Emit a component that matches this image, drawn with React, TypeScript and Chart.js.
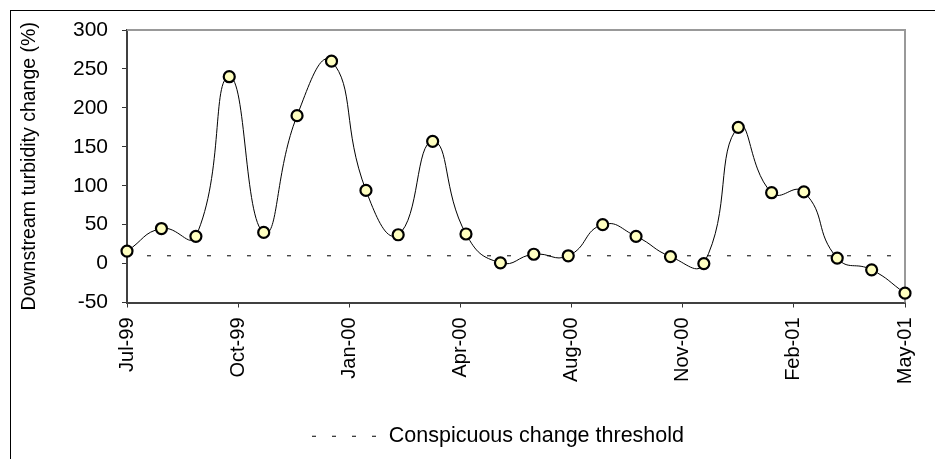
import React, { useEffect, useRef } from "react";
import { Chart, registerables } from "chart.js";

Chart.register(...registerables);

// Sample dates as days after 1 Jul 1999
const sampleDays = [0, 31, 62, 92, 123, 153, 184, 215, 244, 275, 305, 336, 366, 397, 428, 458, 489, 519, 550, 580, 609, 639, 670, 700];
// Downstream turbidity change (%)
const turbidityChange = [16, 45, 35, 240, 40, 190, 260, 94, 37, 157, 38, 1, 12, 10, 50, 35, 9, 0, 175, 91, 92, 7, -8, -38];
// Tick labels every 100 days
const tickLabels = ["Jul-99", "Oct-99", "Jan-00", "Apr-00", "Aug-00", "Nov-00", "Feb-01", "May-01"];
// Conspicuous change threshold
const thresholdDays = [18, 690];
const thresholdValues = [10, 10];
const thresholdDash = [4, 16];

const FONT = "'Liberation Sans', Arial, Helvetica, sans-serif";

const framePlugin = {
  id: "plotFrame",
  beforeDatasetsDraw(chart: any) {
    const { ctx, chartArea } = chart;
    ctx.save();
    ctx.strokeStyle = "#999999";
    ctx.lineWidth = 2;
    ctx.beginPath();
    ctx.moveTo(chartArea.left, chartArea.top);
    ctx.lineTo(chartArea.right, chartArea.top);
    ctx.lineTo(chartArea.right, chartArea.bottom);
    ctx.stroke();
    ctx.restore();
  },
};

export default function App() {
  const ref = useRef<HTMLCanvasElement | null>(null);

  useEffect(() => {
    if (!ref.current) return;
    const chart = new Chart(ref.current, {
      type: "line",
      data: {
        datasets: [
          {
            label: "Downstream turbidity change",
            data: sampleDays.map((d, i) => ({ x: d, y: turbidityChange[i] })),
            borderColor: "#000000",
            borderWidth: 1,
            tension: 0.5,
            pointRadius: 5.5,
            pointHoverRadius: 5.5,
            pointBorderWidth: 2.2,
            pointBackgroundColor: "#FFFFC0",
            pointBorderColor: "#000000",
            clip: false as any,
          },
          {
            label: "Conspicuous change threshold",
            data: thresholdDays.map((d, i) => ({ x: d, y: thresholdValues[i] })),
            borderColor: "#000000",
            borderWidth: 1,
            borderDash: thresholdDash,
            pointRadius: 0,
            tension: 0,
          },
        ],
      },
      options: {
        animation: false,
        responsive: false,
        events: [],
        layout: { padding: { left: 0, top: 30, right: 0, bottom: 2 } },
        plugins: {
          legend: {
            position: "bottom",
            labels: {
              usePointStyle: true,
              pointStyle: "line",
              pointStyleWidth: 66,
              color: "#000000",
              padding: 10,
              font: { family: FONT, size: 21.5 },
              generateLabels: (c: any) =>
                Chart.defaults.plugins.legend.labels
                  .generateLabels(c)
                  .filter((it: any) => it.datasetIndex === 1)
                  .map((it: any) => ({
                    ...it,
                    lineDash: thresholdDash,
                    lineWidth: 1,
                    strokeStyle: "#000000",
                    fillStyle: "#000000",
                  })),
            },
          },
          tooltip: { enabled: false },
        },
        scales: {
          x: {
            type: "linear",
            min: 0,
            max: 700,
            ticks: {
              stepSize: 100,
              autoSkip: false,
              minRotation: 90,
              maxRotation: 90,
              padding: 10,
              color: "#000000",
              font: { family: FONT, size: 20 },
              callback: (v: any) => tickLabels[Math.round(Number(v) / 100)] ?? "",
            },
            grid: {
              drawOnChartArea: false,
              drawTicks: true,
              tickLength: 5,
              tickColor: "#333333",
              tickWidth: 1,
            },
            border: { display: true, color: "#404040", width: 2 },
            afterFit: (s: any) => {
              s.height = 113;
            },
          },
          y: {
            min: -50,
            max: 300,
            ticks: {
              stepSize: 50,
              padding: 14,
              color: "#000000",
              font: { family: FONT, size: 21 },
            },
            grid: {
              drawOnChartArea: false,
              drawTicks: true,
              tickLength: 5,
              tickColor: "#333333",
              tickWidth: 1,
            },
            border: { display: true, color: "#404040", width: 2 },
            title: {
              display: true,
              text: "Downstream turbidity change (%)",
              color: "#000000",
              font: { family: FONT, size: 19.5 },
              padding: { top: 18.3, bottom: 0 },
            },
            afterFit: (s: any) => {
              s.width = 127;
            },
          },
          rightMargin: {
            type: "linear",
            position: "right",
            display: true,
            ticks: { display: false },
            grid: { display: false, drawTicks: false },
            border: { display: false },
            afterFit: (s: any) => {
              s.width = 91;
            },
          },
        },
      },
      plugins: [framePlugin],
    });
    return () => chart.destroy();
  }, []);

  return (
    <div
      style={{
        position: "fixed",
        left: 0,
        top: 0,
        width: 935,
        height: 459,
        overflow: "hidden",
        background: "#ffffff",
      }}
    >
      <div
        style={{
          position: "absolute",
          left: 10,
          top: 10,
          width: 2000,
          height: 2000,
          borderLeft: "1px solid #000",
          borderTop: "1px solid #000",
        }}
      />
      <canvas
        ref={ref}
        width={996}
        height={459}
        style={{ position: "absolute", left: 0, top: 0, width: 996, height: 459 }}
      />
    </div>
  );
}
